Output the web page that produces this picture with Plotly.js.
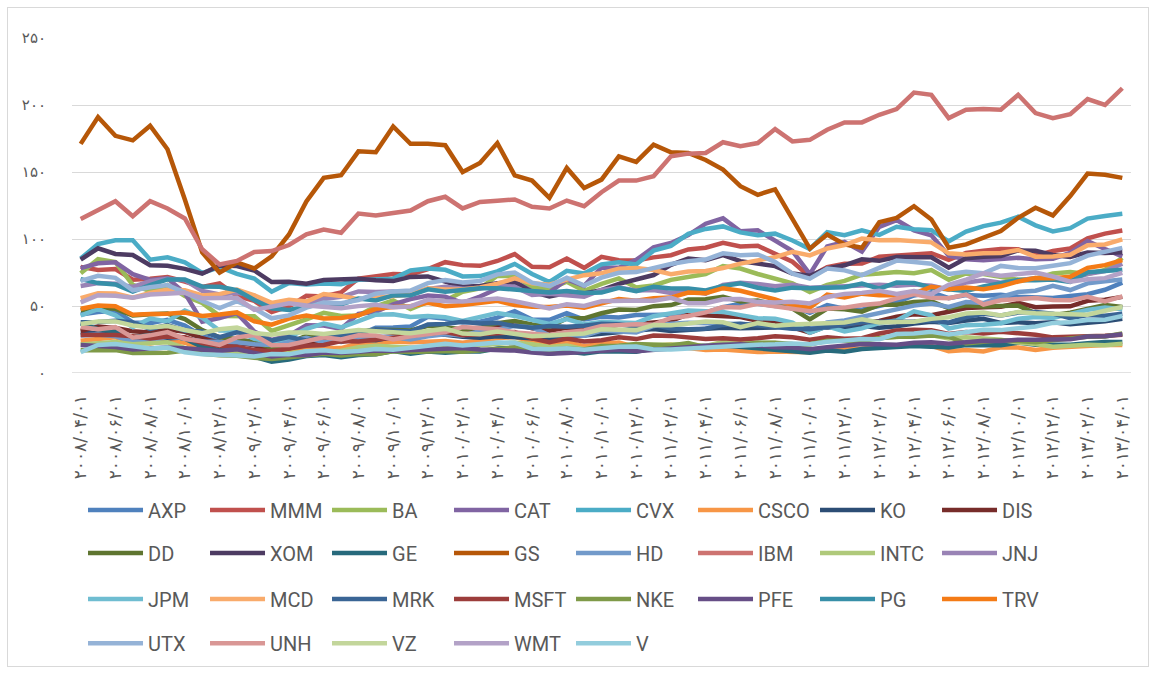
<!DOCTYPE html>
<html>
<head>
<meta charset="utf-8">
<script src="https://cdn.plot.ly/plotly-3.0.1.min.js"></script>
<style>
  html, body { margin: 0; padding: 0; background: #ffffff; }
  #wrap { position: relative; width: 1155px; height: 673px; }
  #chart { width: 1155px; height: 673px; }
  #frame { position: absolute; left: 7px; top: 7px; width: 1140px; height: 658px; border: 1px solid #d9d9d9; pointer-events: none; }
</style>
</head>
<body>
<div id="wrap"><div id="chart"></div><div id="frame"></div></div>
<script>
const dates = [
  "2008/04/01","2008/05/01","2008/06/01","2008/07/01","2008/08/01","2008/09/01","2008/10/01","2008/11/01","2008/12/01",
  "2009/01/01","2009/02/01","2009/03/01","2009/04/01","2009/05/01","2009/06/01","2009/07/01","2009/08/01","2009/09/01","2009/10/01","2009/11/01","2009/12/01",
  "2010/01/01","2010/02/01","2010/03/01","2010/04/01","2010/05/01","2010/06/01","2010/07/01","2010/08/01","2010/09/01","2010/10/01","2010/11/01","2010/12/01",
  "2011/01/01","2011/02/01","2011/03/01","2011/04/01","2011/05/01","2011/06/01","2011/07/01","2011/08/01","2011/09/01","2011/10/01","2011/11/01","2011/12/01",
  "2012/01/01","2012/02/01","2012/03/01","2012/04/01","2012/05/01","2012/06/01","2012/07/01","2012/08/01","2012/09/01","2012/10/01","2012/11/01","2012/12/01",
  "2013/01/01","2013/02/01","2013/03/01","2013/04/01"
];

const AXP  = [43.7, 45.6,46.4,37.7,37.1,39.7,35.4,27.5,23.3,18.5, 16.7,12.1,13.6,25.2,24.8,23.2,28.3,33.8,33.9,34.8,41.9,40.5, 37.7,38.2,41.3,46.1,39.9,39.7,44.6,39.9,42.0,41.5,43.2,42.9, 43.4,43.6,45.2,49.1,51.6,51.7,50.0,49.7,44.9,50.6,48.0,47.2, 50.1,52.9,57.9,60.2,55.8,58.2,57.7,58.3,56.9,56.0,55.9,57.5, 58.8,62.1,67.5];
const MMM  = [79.2, 76.9,77.6,69.6,70.4,71.6,68.3,64.3,66.9,57.5, 53.8,45.5,49.7,57.6,57.1,60.1,70.5,72.1,73.8,73.6,77.5,82.7, 80.5,80.0,83.6,88.7,79.3,79.0,85.5,78.5,86.7,84.2,84.0,86.3, 87.9,92.2,93.5,97.2,94.4,94.9,88.7,83.0,71.8,79.0,81.5,81.7, 86.7,87.6,89.2,89.4,84.4,89.6,91.2,92.6,92.4,87.6,91.0,92.9, 100.5,104.0,106.3];
const BA   = [74.4, 84.9,82.8,65.7,61.1,65.6,57.4,52.3,42.6,42.7, 42.3,31.4,35.6,40.1,44.9,42.5,42.9,49.7,54.2,47.8,53.0,54.1, 60.6,63.2,72.6,72.4,64.2,62.8,68.1,61.3,66.5,70.6,63.8,65.3, 69.5,71.9,73.9,79.8,78.0,73.9,70.5,66.9,60.5,65.8,68.7,73.4, 74.2,75.3,74.4,76.8,69.6,74.3,73.9,71.4,69.6,70.4,74.3,75.4, 73.9,76.9,85.9];
const CAT  = [78.3, 81.9,82.6,73.8,69.5,70.7,59.6,38.2,41.0,44.7, 30.9,24.6,28.0,35.6,35.5,33.0,44.1,45.7,51.3,55.1,57.8,57.0, 52.3,57.1,62.9,68.1,60.8,60.1,69.8,65.1,78.7,78.6,84.4,93.7, 97.0,102.9,111.4,115.4,105.8,106.5,98.8,91.0,73.8,94.5,97.8,90.6, 109.1,114.1,106.5,102.8,87.6,84.9,84.2,85.3,86.0,84.8,85.3,89.6, 98.4,92.5,87.0];
const CVX  = [85.4, 96.2,99.1,99.1,84.6,86.3,82.5,74.6,79.0,74.0, 70.5,60.7,67.2,66.1,66.7,66.3,69.5,69.9,70.4,76.5,78.0,77.0, 72.1,72.3,75.8,81.4,73.9,67.9,76.2,74.2,81.1,82.6,81.0,91.3, 94.9,103.8,107.5,109.4,104.9,102.8,104.0,98.9,92.6,105.1,102.8,106.4, 103.1,109.1,107.2,106.6,98.3,105.5,109.6,112.2,116.6,110.2,105.7,108.1, 115.2,117.2,118.8];
const CSCO = [24.1, 25.6,26.7,23.3,22.0,24.1,22.6,17.8,16.5,16.3, 15.0,14.6,16.8,19.3,18.5,18.6,22.0,21.6,23.5,22.9,23.4,23.9, 22.5,24.3,26.0,26.9,23.2,21.3,23.1,20.0,21.9,22.8,19.2,20.2, 21.2,18.6,17.2,17.6,16.8,15.6,16.0,15.7,15.5,18.5,18.6,18.1, 19.6,19.8,21.2,20.2,16.3,17.2,16.0,19.1,19.1,17.1,18.9,19.7, 20.6,20.9,20.9];
const KO   = [30.4, 29.4,28.6,26.0,25.7,26.0,26.4,22.0,23.4,22.6, 21.4,20.4,22.0,21.5,24.6,24.0,24.9,24.4,26.9,26.7,28.6,28.5, 27.1,26.4,27.5,26.7,25.7,25.1,27.6,28.0,29.3,30.7,31.6,32.9, 31.4,32.0,33.2,33.7,33.4,33.6,34.0,35.2,33.8,34.2,33.6,35.0, 33.8,34.9,37.0,38.2,37.4,39.1,40.4,37.4,37.9,37.2,37.9,36.3, 37.2,38.7,40.4];
const DIS  = [31.4, 34.7,33.6,31.2,30.3,32.4,30.7,25.9,22.5,22.7, 20.7,16.8,18.2,21.9,24.2,23.3,25.1,26.0,27.5,27.4,30.2,32.3, 29.6,31.2,34.9,36.8,33.4,31.5,33.7,32.5,33.1,36.1,36.5,37.5, 38.9,43.7,43.1,43.1,41.7,39.0,38.6,34.0,30.2,34.9,35.9,37.5, 38.9,42.0,43.8,43.1,45.7,48.5,49.1,49.5,52.3,49.1,49.7,49.8, 53.9,54.6,56.8];
const DD   = [46.8, 48.9,47.9,42.9,43.8,44.4,40.3,32.0,26.6,25.3, 22.9,18.7,22.3,27.9,28.6,25.6,30.9,32.2,32.1,31.8,35.2,33.7, 32.6,33.7,37.2,38.8,36.2,34.6,40.7,40.8,44.6,47.3,47.0,49.9, 50.7,54.8,55.0,56.8,53.4,54.1,51.4,48.1,40.0,48.1,47.6,45.8, 50.9,50.9,52.9,53.5,48.3,50.6,49.7,50.3,50.3,44.5,43.1,45.0, 47.5,50.7,49.2];
const XOM  = [84.6, 93.1,88.8,88.1,80.4,80.0,77.7,74.1,80.2,79.8, 76.5,67.9,68.1,66.7,69.4,69.9,70.4,69.2,68.6,71.7,72.1,68.2, 64.4,65.0,67.0,67.8,60.5,57.1,59.7,59.3,61.8,66.5,69.6,73.1, 80.7,85.5,84.1,88.0,83.5,81.4,79.8,74.2,72.6,78.1,80.4,84.8, 83.7,86.5,86.7,86.3,78.6,85.6,86.8,87.3,91.5,91.2,88.1,86.6, 90.0,89.6,90.1];
const GE   = [37.0, 32.7,30.7,26.7,28.3,28.1,25.5,19.5,17.2,16.2, 12.1,8.5,10.1,12.6,13.5,11.7,13.4,13.9,16.4,14.3,16.0,15.1, 16.1,16.1,18.2,18.9,16.4,14.4,16.1,14.5,16.3,16.0,15.8,18.3, 20.1,20.9,20.1,20.5,19.6,18.9,17.9,16.3,15.2,16.7,15.9,17.9, 18.7,19.1,20.1,19.6,19.1,20.8,20.7,20.7,22.7,21.1,21.1,21.0, 22.3,23.2,23.1];
const GS   = [171,191,177,173.6,184.5,167,129.5,90,75,82.5, 78,87,103.4,128,145.6,147.6,165.4,164.7,184,171, 171,170,150,156.7,171.6,147.5,143.6,130.7,153,138, 144.3,161.7,157.5,170.4,164.7,164.2,159,151.8,139.4,133, 137,114.6,92.8,103.4,96,93.5,112.6,115.8,124.5,114.6, 93.5,96,101,105.9,115.8,123.3,117.6,132,148.8,148, 145.6];
const HD   = [28.0, 28.8,27.4,23.4,23.8,27.1,25.9,23.6,23.1,23.0, 21.5,20.9,23.6,26.3,23.2,23.6,25.9,27.3,26.6,25.1,27.4,28.9, 28.0,31.2,32.4,35.3,33.9,28.1,28.5,27.8,31.7,30.9,30.2,35.1, 36.8,37.5,37.1,37.2,36.3,36.2,34.9,33.4,32.9,37.8,39.2,42.0, 44.4,47.6,50.3,51.8,49.3,53.0,52.2,56.7,60.4,61.4,65.1,61.9, 66.9,68.5,69.8];
const IBM  = [115,121.5,128.2,117,128.2,122.8,115.3,92.3,81,83.6, 90.3,91,95.5,103.4,107,104.7,119,117.6,119.6,121.3, 128.2,131.5,122.8,127.7,128.5,129.5,124,122.8,128.7,124.5, 134.9,143.6,143.6,146.8,161.7,163.7,164.2,172.2,169.3,171.6, 182,172.8,174,181.5,187,187,192.7,197,209.3,207.6, 190.2,196.4,197,196.4,207.6,194,190.2,193.2,204.4,200, 212.5];
const INTC = [21.2, 22.3,23.2,21.5,22.2,22.9,18.7,16.0,13.8,14.7, 12.9,12.7,15.0,15.8,15.7,16.6,19.3,20.3,19.6,19.1,19.2,20.4, 19.4,20.5,22.3,22.8,21.4,19.5,20.6,17.7,19.2,20.1,21.2,21.0, 21.5,21.5,20.2,23.2,22.5,22.2,22.3,20.1,21.3,24.5,24.9,24.3, 26.4,26.9,28.1,28.4,25.8,26.6,25.7,24.8,22.7,21.6,19.6,20.6, 21.0,20.8,21.8];
const JNJ  = [64.9, 67.1,66.7,64.3,68.5,70.4,69.3,61.3,58.6,59.8, 57.7,50.0,52.6,52.4,55.2,56.8,60.9,60.4,60.9,59.1,62.8,64.4, 62.9,63.0,65.2,64.3,58.3,59.1,58.1,57.0,62.0,63.7,61.6,61.9, 59.8,61.4,59.3,65.7,67.3,66.5,64.8,65.8,63.7,64.4,64.7,65.6, 65.9,65.1,66.0,65.1,62.4,67.6,69.2,67.4,68.9,70.8,69.7,70.1, 73.9,76.1,81.5];
const JPM  = [42.9, 47.7,43.0,34.3,40.6,38.5,46.7,41.3,31.7,31.5, 25.5,22.9,26.6,33.0,36.9,34.1,38.7,43.5,43.8,41.8,42.5,41.7, 38.9,42.0,44.8,42.6,39.6,36.6,40.3,36.4,38.1,37.6,37.4,42.4, 44.9,46.7,46.1,45.6,43.2,40.9,40.5,37.6,30.1,34.8,31.0,33.3, 37.3,39.2,46.0,43.0,33.2,35.7,36.0,37.1,40.5,41.7,41.1,44.0, 47.1,48.9,47.5];
const MCD  = [55.8, 59.6,59.3,56.2,59.8,62.1,61.7,57.9,58.8,62.2, 58.0,52.3,54.6,53.3,59.0,57.5,55.1,56.2,57.1,58.6,63.3,62.4, 62.4,63.9,66.7,70.6,66.9,65.9,69.7,73.0,74.5,77.8,78.3,76.8, 73.7,75.7,76.1,78.3,81.6,84.3,86.5,90.5,87.8,92.9,95.5,100.3, 99.1,99.3,98.1,97.5,89.3,88.5,89.4,89.5,91.8,86.8,87.0,88.2, 95.3,95.9,99.7];
const MRK  = [37.95, 38.0,38.9,37.7,32.9,35.7,31.6,30.9,26.7,30.4, 28.6,24.2,26.8,24.2,27.6,28.0,30.0,32.4,31.6,30.9,36.2,36.5, 38.2,36.9,37.4,35.0,33.7,35.0,34.5,35.2,36.8,36.3,34.5,36.0, 33.2,32.6,33.0,35.9,36.8,35.3,34.1,33.1,32.7,34.5,35.8,37.7, 38.3,38.2,38.4,39.2,37.6,41.8,44.2,43.0,45.1,45.6,44.3,40.9, 43.3,42.7,44.2];
const MSFT = [28.4, 28.5,28.3,27.5,25.7,27.3,26.7,22.3,20.2,19.4, 17.1,16.2,18.4,20.3,20.9,23.8,23.5,24.7,25.7,27.7,29.4,30.5, 28.2,28.7,29.3,30.5,25.8,23.0,25.8,23.5,24.5,26.7,25.3,27.9, 27.7,26.6,25.4,26.0,25.0,26.0,27.4,26.6,24.9,26.6,25.6,26.0, 29.5,31.7,32.3,32.0,29.2,30.6,29.5,30.8,29.8,28.5,26.6,26.7, 27.5,27.8,28.6];
const NKE  = [17.0, 16.7,17.1,14.9,14.7,15.2,16.8,14.4,13.3,12.8, 11.3,10.4,11.7,13.1,14.3,13.0,14.2,14.0,16.2,15.6,16.2,16.5, 15.9,17.0,18.4,19.0,18.1,16.9,18.4,17.5,20.1,20.4,21.6,21.4, 20.6,22.3,19.0,20.6,21.1,22.5,22.6,21.7,21.4,24.1,24.1,24.1, 26.0,27.0,27.1,28.0,27.1,22.0,23.4,24.4,23.8,22.9,24.4,25.8, 27.1,27.3,29.5];
const PFE  = [20.9, 20.1,19.4,17.5,18.7,19.1,18.4,17.7,16.4,17.7, 14.6,12.3,13.6,13.3,15.2,15.0,15.9,16.7,16.6,17.0,18.2,18.2, 18.7,17.5,17.2,16.7,15.2,14.3,15.0,15.9,17.2,17.4,16.3,17.5, 18.2,19.2,20.3,21.0,21.4,20.6,19.2,19.0,17.7,19.3,20.1,21.6, 21.4,21.1,22.6,22.9,21.9,23.0,24.0,23.9,24.9,24.9,25.0,25.1, 27.3,27.4,28.9];
const PG   = [70.1, 67.1,66.1,60.8,65.5,69.8,69.7,64.5,64.4,61.8, 54.5,48.2,47.1,49.4,51.9,51.1,55.5,54.2,57.9,58.0,62.4,60.6, 61.6,63.3,63.3,62.2,61.1,60.0,61.2,59.7,60.0,63.6,61.1,64.3, 63.1,63.1,61.6,64.9,66.9,63.6,61.5,63.7,63.2,64.0,64.0,66.7, 63.0,67.5,67.2,63.6,62.3,61.3,64.5,67.2,69.4,69.2,69.8,67.9, 75.2,76.2,77.1];
const TRV  = [47.9, 50.4,49.8,43.4,44.1,44.2,45.2,42.6,43.6,45.2, 38.6,36.1,40.6,42.8,40.7,41.0,43.1,47.9,49.2,49.8,52.4,49.9, 50.7,52.6,53.9,50.7,49.5,49.2,50.4,48.7,52.1,55.2,54.0,55.7, 56.3,60.0,59.5,63.3,61.4,58.4,54.9,50.4,48.7,58.4,56.3,59.2, 58.1,58.0,59.2,64.4,62.5,63.8,62.6,64.7,68.3,70.9,70.8,71.8, 78.5,80.5,84.2];
const UTX  = [68.8, 72.5,71.0,61.7,64.0,65.6,60.1,53.7,48.5,53.6, 48.0,40.8,43.0,48.8,52.6,52.0,54.5,59.2,60.9,61.5,67.1,69.4, 67.5,68.7,73.6,75.0,67.4,64.9,71.1,65.2,71.2,74.8,75.3,78.7, 81.3,83.5,84.7,89.3,87.8,88.5,82.8,74.1,70.4,78.0,76.6,73.1, 78.4,83.9,82.9,81.6,73.9,75.5,74.4,79.9,78.3,78.2,80.1,82.0, 87.6,90.5,93.4];
const UNH  = [34.4, 32.6,34.2,26.3,28.1,30.5,25.4,23.7,21.0,26.6, 28.3,20.8,20.9,23.5,26.6,25.0,28.1,28.0,25.0,27.4,28.8,30.5, 34.3,33.7,32.7,30.3,29.1,28.4,30.4,31.7,35.1,36.1,36.3,36.1, 41.1,42.6,45.2,49.2,48.9,51.6,49.6,47.5,46.1,48.0,48.8,50.7, 51.8,55.7,58.9,56.2,55.8,58.5,51.1,54.3,55.4,56.0,54.4,54.2, 56.9,53.5,57.2];
const VZ   = [36.5, 38.5,38.5,35.4,34.0,35.1,32.1,29.7,32.7,33.9, 29.9,28.6,30.2,30.3,29.2,30.7,32.1,31.1,30.3,29.6,31.4,33.1, 29.4,28.9,31.0,28.9,27.5,28.0,29.1,29.5,32.6,32.5,32.0,35.8, 35.6,36.9,38.5,37.8,34.2,37.2,35.3,36.2,36.8,37.0,37.7,40.1, 37.7,38.1,38.2,40.4,41.6,44.4,45.1,42.9,45.6,44.6,44.1,43.3, 43.5,46.4,49.2];
const WMT  = [52.7, 58.0,57.7,56.2,58.6,59.1,59.9,55.8,55.9,56.1, 47.1,49.2,52.1,50.4,49.7,48.4,49.9,50.9,49.1,49.7,54.6,53.5, 53.4,54.1,55.6,53.6,50.6,48.1,51.2,50.1,53.5,54.2,54.1,53.9, 56.1,52.0,52.1,55.0,55.2,53.1,52.7,53.2,51.9,56.7,58.9,59.8, 61.4,59.0,61.2,58.9,65.8,69.7,74.4,72.6,73.8,75.0,72.0,68.2, 70.0,70.8,74.8];
const V    = [15.6, 20.9,21.6,20.3,18.3,19.0,15.4,13.9,13.1,13.1, 12.4,14.2,13.9,16.3,17.0,15.6,16.4,17.9,17.3,18.9,20.3,21.9, 20.5,22.0,22.8,22.6,18.1,17.7,18.4,17.3,18.6,19.6,19.7,17.6, 17.5,18.3,18.4,19.5,20.3,21.1,21.4,22.0,21.4,23.3,24.3,25.4, 25.2,29.1,29.5,30.8,28.8,30.9,32.3,32.0,33.6,34.7,37.4,37.9, 39.5,39.7,42.5];

const names = ["AXP","MMM","BA","CAT","CVX","CSCO","KO","DIS","DD","XOM","GE","GS","HD","IBM","INTC","JNJ","JPM","MCD","MRK","MSFT","NKE","PFE","PG","TRV","UTX","UNH","VZ","WMT","V"];
const series = [AXP,MMM,BA,CAT,CVX,CSCO,KO,DIS,DD,XOM,GE,GS,HD,IBM,INTC,JNJ,JPM,MCD,MRK,MSFT,NKE,PFE,PG,TRV,UTX,UNH,VZ,WMT,V];
const colors = ["#4F81BD","#C0504D","#9BBB59","#8064A2","#4BACC6","#F79646","#2C4D75","#772C2A","#5F7530","#4D3B62",
                "#276A7C","#B65708","#729ACA","#CD7371","#AFC97A","#9983B5","#6FBDD1","#F9AB6B","#3A6595","#9C3D3B",
                "#7F9A48","#664E86","#378FA8","#F47B16","#95B3D7","#D99795","#C3D69B","#B3A2C7","#93CDDD"];
const yTicks = [0, 50, 100, 150, 200, 250];

series.forEach((s, k) => { if (s.length !== dates.length) throw new Error(names[k] + " has " + s.length); });

const faDigits = "۰۱۲۳۴۵۶۷۸۹";
function toFa(str) { return String(str).replace(/[0-9]/g, d => faDigits[+d]); }

const legendIds = ["legend", "legend2", "legend3", "legend4"];
const traces = series.map((s, k) => ({
  type: "scatter", mode: "lines", name: names[k], x: dates, y: s,
  line: { color: colors[k], width: 4.5 },
  legend: legendIds[Math.floor(k / 8)],
  hoverinfo: "x+y+name"
}));

const tickDates = dates.filter((d, i) => i % 2 === 0);

const legendBase = {
  orientation: "h", xanchor: "left", yanchor: "middle", x: 0.0104,
  entrywidth: 52, entrywidthmode: "pixels", itemwidth: 55,
  font: { family: "Roboto, 'Liberation Sans', sans-serif", size: 20, color: "#595959" },
  bgcolor: "rgba(0,0,0,0)", traceorder: "normal"
};
const rowY = [-0.405, -0.533, -0.670, -0.801];

const layout = {
  width: 1155, height: 673,
  margin: { l: 72, r: 24, t: 38, b: 299 },
  paper_bgcolor: "#ffffff", plot_bgcolor: "#ffffff",
  showlegend: true,
  xaxis: {
    type: "category", range: [-0.5, dates.length - 0.5],
    tickmode: "array", tickvals: tickDates, ticktext: tickDates.map(toFa),
    tickangle: -90, showgrid: false, zeroline: false, showline: false,
    ticks: "outside", ticklen: 14, tickcolor: "rgba(0,0,0,0)",
    tickfont: { family: "'DejaVu Sans', sans-serif", size: 17, color: "#595959" },
    fixedrange: true
  },
  yaxis: {
    range: [0, 250], tickmode: "array", tickvals: yTicks, ticktext: yTicks.map(toFa),
    showgrid: true, gridcolor: "#d9d9d9", gridwidth: 1.3, zeroline: false, showline: false,
    ticks: "outside", ticklen: 22, tickcolor: "rgba(0,0,0,0)",
    tickfont: { family: "'DejaVu Sans', sans-serif", size: 15, color: "#595959" },
    fixedrange: true
  },
  legend:  Object.assign({}, legendBase, { y: rowY[0] }),
  legend2: Object.assign({}, legendBase, { y: rowY[1] }),
  legend3: Object.assign({}, legendBase, { y: rowY[2] }),
  legend4: Object.assign({}, legendBase, { y: rowY[3] }),
  shapes: [{ type: "line", xref: "paper", yref: "y", x0: 0, x1: 1, y0: 0, y1: 0, line: { color: "#d9d9d9", width: 1.3 }, layer: "below" }]
};

Plotly.newPlot("chart", traces, layout, { displayModeBar: false, staticPlot: false });
</script>
</body>
</html>
